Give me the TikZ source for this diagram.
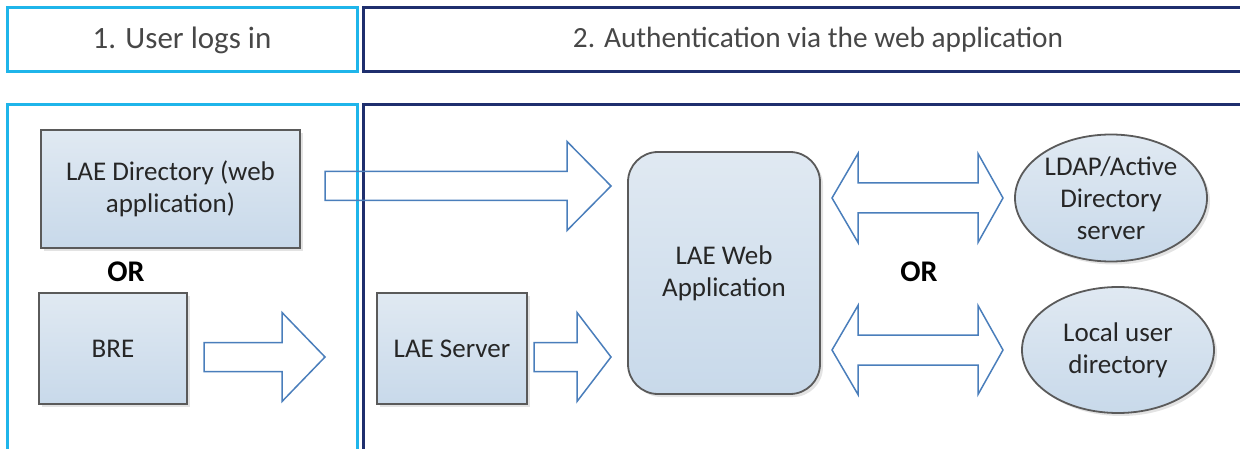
\documentclass[tikz,border=0pt]{standalone}
\usepackage{fontspec}
\setmainfont{Carlito}
\usetikzlibrary{shapes.geometric,shadows}
\definecolor{cyanframe}{HTML}{1FB5EA}
\definecolor{navyframe}{HTML}{1F2F6E}
\definecolor{boxtop}{HTML}{E0E9F2}
\definecolor{boxbot}{HTML}{C8D9EA}
\definecolor{boxline}{HTML}{5A5A5A}
\definecolor{arrline}{HTML}{4A7EBB}
\definecolor{txt}{HTML}{262626}
\newcommand\sarrow[4]{%
  \draw[arr] (#1,#4-14.5) -- (#2,#4-14.5) -- (#2,#4-44.5) -- (#3,#4) -- (#2,#4+44.5) -- (#2,#4+14.5) -- (#1,#4+14.5) -- cycle;}
\newcommand\darrow[5]{%
  \draw[arr] (#1,#5) -- (#2,#5-44.5) -- (#2,#5-15) -- (#3,#5-15) -- (#3,#5-44.5) -- (#4,#5) -- (#3,#5+44.5) -- (#3,#5+15) -- (#2,#5+15) -- (#2,#5+44.5) -- cycle;}
\tikzset{
  frame/.style={draw, line width=3pt, inner sep=0pt},
  hdr/.style={frame, font=\fontsize{31}{37}\selectfont, text=txt!85!white},
  box/.style={draw=boxline, line width=1.8pt, top color=boxtop, bottom color=boxbot,
    text=txt, font=\fontsize{27}{32}\selectfont, align=center, inner sep=0pt,
    drop shadow={shadow xshift=3pt, shadow yshift=-3pt, fill=black!18, opacity=0.6}},
  ortext/.style={font=\fontsize{30}{36}\selectfont\bfseries, text=black},
  arr/.style={draw=arrline, line width=1.5pt, line join=miter},
}
\begin{document}
\begin{tikzpicture}[x=1pt,y=-1pt]
\useasboundingbox (0,0) rectangle (1240,449);
\clip (0,0) rectangle (1240,449);
% frames
\node[hdr, draw=cyanframe, minimum width=350, minimum height=64] (h1) at (182,40) {1. User logs in};
\node[hdr, draw=navyframe, minimum width=910, minimum height=64, font=\fontsize{29.3}{35}\selectfont] (h2) at (818,40) {2. Authentication via the web application};
\node[frame, draw=cyanframe, minimum width=350, minimum height=380] (b1) at (182,295) {};
\node[frame, draw=navyframe, minimum width=910, minimum height=380] (b2) at (818,295) {};
% boxes
\node[box, minimum width=259, minimum height=118] (dir) at (170.5,189) {LAE Directory (web\\application)};
\node[box, minimum width=148, minimum height=111] (bre) at (113,348.5) {BRE};
\node[box, minimum width=150, minimum height=111] (srv) at (452,348.5) {LAE Server};
\node[box, rounded corners=30, minimum width=192, minimum height=242] (web) at (724,273) {LAE Web\\Application};
\node[box, ellipse, minimum width=192, minimum height=127] (ldap) at (1111,198) {LDAP/Active\\Directory\\server};
\node[box, ellipse, minimum width=192, minimum height=126] (local) at (1118,350) {Local user\\directory};
\node[ortext] (or1) at (126,272) {OR};
\node[ortext] (or2) at (919,272) {OR};
% block arrows
\sarrow{325}{567}{611}{186}
\sarrow{204}{282}{325}{357}
\sarrow{534}{577}{611}{357}
\darrow{832}{858}{978}{1003}{198}
\darrow{832}{858}{978}{1003}{350}
\end{tikzpicture}
\end{document}
